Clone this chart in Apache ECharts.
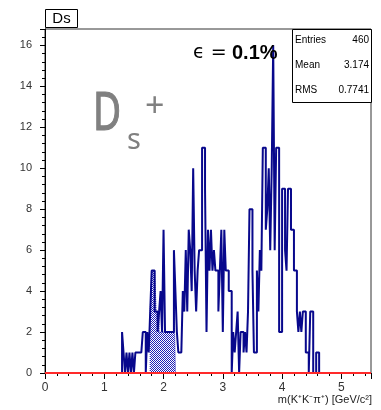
<!DOCTYPE html>
<html>
<head>
<meta charset="utf-8">
<script src="https://cdn.jsdelivr.net/npm/echarts@6/dist/echarts.min.js"></script>
<style>
html,body{margin:0;padding:0;background:#fff;}
#chart{width:381px;height:410px;}
</style>
</head>
<body>
<div id="chart"></div>
<script>
// ---- data ----
var binWidth = 0.025;
var mainStart = 1.3;
var mainCounts = [
  2,1,0,1,0,1,0,1,0,1,
  1,1,1,1,2,2,0,2,1,3,
  5,5,3,3,2,3,4,2,7,2,
  2,2,2,2,2,6,4,2,1,1,
  1,4,3,6,3,7,6,4,10,5,
  3,5,6,6,11,11,9,2,7,5,
  7,5,6,5,5,3,5,7,2,7,
  5,5,4,4,0,2,1,2,3,0,
  2,2,1,2,1,3,8,8,5,1,
  1,5,3,6,5,11,11,7,8,10,
  6,10,16,6,11,11,2,2,9,9,
  6,5,9,9,7,7,5,5,3,2,
  3,2,3,3,1,1,0,3,3,0,
  0,1,1
];
var hatchStart = 1.775;
var hatchCounts = [3,5,5,5,3,3,2,2,2,2,2,2,2,2,2,2,4];
var xTicks = [0,1,2,3,4,5];
var yTicks = [0,2,4,6,8,10,12,14,16];
var statLabels = ['Entries','Mean','RMS'];
var statValues = ['460','3.174','0.7741'];

function histPoints(start, counts){
  var pts = [[start, 0]];
  for (var i = 0; i < counts.length; i++) pts.push([start + i*binWidth, counts[i]]);
  pts.push([start + counts.length*binWidth, 0]);
  return pts;
}

// dotted hatch pattern
var pat = document.createElement('canvas');
pat.width = 2; pat.height = 2;
var pc = pat.getContext('2d');
pc.fillStyle = '#ffffff'; pc.fillRect(0,0,2,2);
pc.fillStyle = '#2020b8'; pc.fillRect(0,0,1,1); pc.fillRect(1,1,1,1);

var chart = echarts.init(document.getElementById('chart'), null, {renderer:'canvas'});
var FONT = 'Liberation Sans';
var GRAY = '#808080';
var graphics = [
  {type:'rect', shape:{x:45.5,y:9.5,width:32,height:18}, style:{fill:'#fff',stroke:'#000',lineWidth:1}, z:100},
  {type:'text', x:61.5, y:18.5, style:{text:'Ds', font:'15px "Liberation Sans"', fill:'#000', textAlign:'center', textVerticalAlign:'middle'}, z:101},
  {type:'rect', shape:{x:292.5,y:29.5,width:79,height:73}, style:{fill:'#fff',stroke:'#000',lineWidth:1}, z:100},
  {type:'text', x:193, y:53, style:{text:'\u03F5 =', font:'19px "DejaVu Sans"', fill:'#000', textVerticalAlign:'middle'}, z:101},
  {type:'text', x:232, y:53, style:{text:'0.1%', font:'bold 20px "Liberation Sans"', fill:'#000', textVerticalAlign:'middle'}, z:101},
  {type:'text', x:372, y:400, style:{text:'m(K\u207AK\u207B\u03C0\u207A) [GeV/c\u00B2]', font:'11px "Liberation Sans"', fill:'#222', textAlign:'right', textVerticalAlign:'middle'}, z:101},
  {type:'text', x:93, y:115, scaleX:0.74, style:{text:'D', font:'52px "Noto Sans"', fill:GRAY, stroke:GRAY, lineWidth:1.2, textVerticalAlign:'middle'}, z:101},
  {type:'text', x:127, y:141, style:{text:'s', font:'29px "Noto Sans"', fill:GRAY, textVerticalAlign:'middle'}, z:101},
  {type:'text', x:145, y:107, style:{text:'+', font:'34px "Noto Sans"', fill:GRAY, textVerticalAlign:'middle'}, z:101}
];
for (var i = 0; i < statLabels.length; i++) {
  var yy = 40 + i*25;
  graphics.push({type:'text', x:295, y:yy, style:{text:statLabels[i], font:'10px "Liberation Sans"', fill:'#000', textVerticalAlign:'middle'}, z:101});
  graphics.push({type:'text', x:369, y:yy, style:{text:statValues[i], font:'10px "Liberation Sans"', fill:'#000', textAlign:'right', textVerticalAlign:'middle'}, z:101});
}

chart.setOption({
  animation:false,
  backgroundColor:'#fff',
  grid:{left:45, right:10, top:29, bottom:37, show:true, borderColor:'#333', borderWidth:1, backgroundColor:'transparent'},
  xAxis:{
    type:'value', min:0, max:5.5, interval:1,
    axisLine:{show:true, lineStyle:{color:'#000', width:1}},
    axisTick:{show:true, inside:false, length:6, lineStyle:{color:'#000'}},
    minorTick:{show:true, splitNumber:5, length:3, lineStyle:{color:'#000'}},
    splitLine:{show:false},
    axisLabel:{show:true, showMaxLabel:false, margin:9, color:'#333', fontFamily:FONT, fontSize:12,
      formatter:function(v){ return xTicks.indexOf(v) >= 0 ? String(v) : ''; }}
  },
  yAxis:{
    type:'value', min:0, max:16.8, interval:2,
    axisLine:{show:true, lineStyle:{color:'#000', width:1}},
    axisTick:{show:true, inside:false, length:5, lineStyle:{color:'#000'}},
    minorTick:{show:true, splitNumber:5, length:3, lineStyle:{color:'#000'}},
    splitLine:{show:false},
    axisLabel:{show:true, showMaxLabel:false, margin:13, color:'#333', fontFamily:FONT, fontSize:11,
      formatter:function(v){ return yTicks.indexOf(v) >= 0 ? String(v) : ''; }}
  },
  graphic:graphics,
  series:[
    {type:'line', step:'end', showSymbol:false, data:histPoints(hatchStart, hatchCounts),
      lineStyle:{color:'#2020b8', width:1, type:'dotted'},
      areaStyle:{color:{image:pat, repeat:'repeat'}, opacity:1}, z:2},
    {type:'line', step:'end', showSymbol:false, data:histPoints(mainStart, mainCounts),
      lineStyle:{color:'#08088c', width:2}, z:3},
    {type:'line', showSymbol:false, clip:false, data:[[0,0],[5.5,0]],
      lineStyle:{color:'#ff2a2a', width:2}, z:4}
  ]
});
</script>
</body>
</html>
